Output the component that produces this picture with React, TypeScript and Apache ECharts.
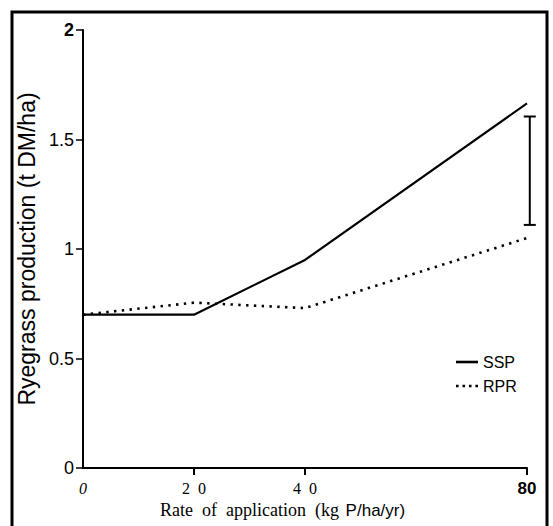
import React, { useEffect, useRef } from "react";
import * as echarts from "echarts";

const rates = [0, 20, 40, 80];
const sspValues = [0.7, 0.7, 0.95, 1.665];
const rprValues = [0.7, 0.755, 0.73, 1.05];
const errorBar = [[80.5, 1.11, 1.605]];
const xTickValues = [0, 20, 40, 80];
const xTickMarks = [20, 40, 80];
const yTickValues = [0, 0.5, 1, 1.5, 2];

const dottedIcon =
  "path://M0,0h2.6v2.6h-2.6z M6.5,0h2.6v2.6h-2.6z M13,0h2.6v2.6h-2.6z M19.5,0h2.6v2.6h-2.6z";

export default function App() {
  const ref = useRef<HTMLDivElement>(null);
  useEffect(() => {
    if (!ref.current) return;
    const chart = echarts.init(ref.current, null, { renderer: "svg" });
    const sans = "'Liberation Sans', Arial, sans-serif";
    const serif = "'Liberation Serif', 'Times New Roman', serif";
    chart.setOption({
      animation: false,
      backgroundColor: "#fff",
      grid: { left: 83, right: 26, top: 30, bottom: 58 },
      xAxis: {
        type: "value",
        min: 0,
        max: 80,
        interval: 20,
        splitLine: { show: false },
        axisLine: { show: true, onZero: false, lineStyle: { color: "#000", width: 2 } },
        axisTick: { show: true, length: 7, customValues: xTickMarks, lineStyle: { color: "#000", width: 2 } },
        axisLabel: {
          customValues: xTickValues,
          margin: 12,
          formatter: (v: number) => {
            if (v === 0) return "{i|0}";
            if (v === 80) return "{b|80}";
            return "{s|" + String(v).split("").join("  ") + "}";
          },
          rich: {
            i: { fontFamily: serif, fontStyle: "italic", fontSize: 16, color: "#000" },
            s: { fontFamily: serif, fontSize: 16, color: "#000" },
            b: { fontFamily: sans, fontWeight: "bold", fontSize: 17, color: "#000" },
          },
        },
      },
      yAxis: {
        type: "value",
        min: 0,
        max: 2,
        interval: 0.5,
        splitLine: { show: false },
        axisLine: { show: true, lineStyle: { color: "#000", width: 2 } },
        axisTick: { show: true, length: 7, lineStyle: { color: "#000", width: 1.5 } },
        axisLabel: {
          margin: 9,
          customValues: yTickValues,
          formatter: (v: number) => (v === 2 ? "{b|2}" : "{n|" + v + "}"),
          rich: {
            n: { fontFamily: sans, fontSize: 18, color: "#000" },
            b: { fontFamily: sans, fontSize: 18, fontWeight: "bold", color: "#000" },
          },
        },
        name: "Ryegrass production (t DM/ha)",
        nameLocation: "middle",
        nameRotate: 90,
        nameGap: 38,
        nameTextStyle: { fontFamily: sans, fontSize: 23, color: "#000" },
      },
      legend: {
        orient: "vertical",
        left: 451,
        top: 349,
        itemGap: 8,
        itemWidth: 22,
        itemHeight: 2.6,
        textStyle: { fontFamily: sans, fontSize: 16, fontWeight: 500, color: "#000" },
        data: [
          { name: "SSP", icon: "rect" },
          { name: "RPR", icon: dottedIcon },
        ],
      },
      graphic: [
        {
          type: "rect",
          shape: { x: 12, y: 12, width: 535, height: 600 },
          style: { fill: "none", stroke: "#000", lineWidth: 3 },
          silent: true,
        },
        {
          type: "text",
          left: 160,
          top: 501,
          style: {
            text: "{a|Rate  of  application  (kg}  {b|P/ha/yr)}",
            rich: {
              a: { fontFamily: serif, fontSize: 18, color: "#000" },
              b: { fontFamily: sans, fontSize: 17, color: "#000" },
            },
          },
        },
      ],
      series: [
        {
          name: "SSP",
          type: "line",
          data: rates.map((r, i) => [r, sspValues[i]]),
          symbol: "none",
          lineStyle: { color: "#000", width: 2.2, type: "solid" },
          itemStyle: { color: "#000" },
        },
        {
          name: "RPR",
          type: "line",
          data: rates.map((r, i) => [r, rprValues[i]]),
          symbol: "none",
          lineStyle: { color: "#000", width: 2.6, type: [2.4, 5.4] },
          itemStyle: { color: "#000" },
        },
        {
          type: "custom",
          data: errorBar,
          renderItem: (params: any, api: any) => {
            const x = api.value(0);
            const lo = api.coord([x, api.value(1)]);
            const hi = api.coord([x, api.value(2)]);
            const w = 6;
            const st = { stroke: "#000", lineWidth: 2 };
            return {
              type: "group",
              children: [
                { type: "line", shape: { x1: lo[0], y1: lo[1], x2: hi[0], y2: hi[1] }, style: st },
                { type: "line", shape: { x1: lo[0] - w, y1: lo[1], x2: lo[0] + w, y2: lo[1] }, style: st },
                { type: "line", shape: { x1: hi[0] - w, y1: hi[1], x2: hi[0] + w, y2: hi[1] }, style: st },
              ],
            };
          },
        },
      ],
    });
    return () => chart.dispose();
  }, []);
  return <div ref={ref} style={{ width: 553, height: 526, position: "absolute", left: 0, top: 0 }} />;
}
